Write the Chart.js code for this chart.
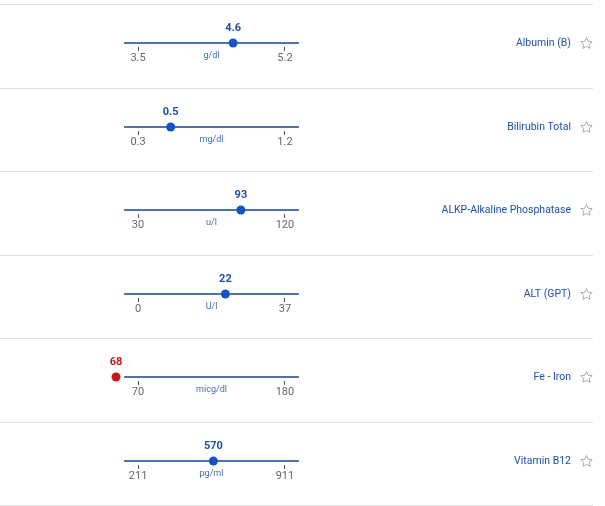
<!DOCTYPE html>
<html>
<head>
<meta charset="utf-8">
<script src="https://cdn.jsdelivr.net/npm/chart.js@4.4.1/dist/chart.umd.min.js"></script>
<style>
  html, body { margin: 0; padding: 0; background: #fff; }
  #wrap { position: relative; width: 605px; height: 506px; overflow: hidden; }
  .sep { position: absolute; left: 0; width: 593px; height: 1px; background: #e0e0e0; }
  canvas { position: absolute; left: 0; }
</style>
</head>
<body>
<div id="wrap"></div>
<script>
// ---- data ----
const testNames = ["Albumin (B)", "Bilirubin Total", "ALKP-Alkaline Phosphatase", "ALT (GPT)", "Fe - Iron", "Vitamin B12"];
const units     = ["g/dl", "mg/dl", "u/l", "U/l", "micg/dl", "pg/ml"];
const rangeLow  = [3.5, 0.3, 30, 0, 70, 211];
const rangeHigh = [5.2, 1.2, 120, 37, 180, 911];
const results   = [4.6, 0.5, 93, 22, 68, 570];
const tickLabels = ["3.5|5.2", "0.3|1.2", "30|120", "0|37", "70|180", "211|911"];

const ROW_TOP = 4, ROW_H = 83.5, CANVAS_H = 83, W = 605;
const BLUE = '#1f4fa8', LINE = '#17428f', DOT = '#1552c4', RED = '#c41a1a';

const wrap = document.getElementById('wrap');
for (let i = 0; i <= testNames.length; i++) {
  const s = document.createElement('div');
  s.className = 'sep';
  s.style.top = Math.round(ROW_TOP + i * ROW_H) + 'px';
  wrap.appendChild(s);
}

function starPath(ctx, cx, cy, R, r) {
  ctx.beginPath();
  for (let k = 0; k < 10; k++) {
    const rad = k % 2 === 0 ? R : r;
    const a = -Math.PI / 2 + k * Math.PI / 5;
    const x = cx + rad * Math.cos(a), y = cy + rad * Math.sin(a);
    if (k === 0) ctx.moveTo(x, y); else ctx.lineTo(x, y);
  }
  ctx.closePath();
}

const rowDecor = {
  id: 'rowDecor',
  afterDatasetsDraw(chart, args, opts) {
    const ctx = chart.ctx;
    const xs = chart.scales.x, ys = chart.scales.y;
    const i = opts.idx;
    const lo = rangeLow[i], hi = rangeHigh[i], v = results[i];
    const out = v < lo || v > hi;
    const pt = chart.getDatasetMeta(0).data[0];
    const yLine = ys.getPixelForValue(0);
    ctx.save();
    // value label above the point
    ctx.font = 'bold 11px Roboto, "Open Sans", sans-serif';
    ctx.fillStyle = out ? RED : BLUE;
    ctx.textAlign = 'center';
    ctx.textBaseline = 'middle';
    ctx.fillText(String(v), pt.x, yLine - 14.5);
    // unit label
    ctx.font = '9px Roboto, "Open Sans", sans-serif';
    ctx.fillStyle = '#3f6db6';
    ctx.fillText(units[i], (xs.getPixelForValue(lo) + xs.getPixelForValue(hi)) / 2, yLine + 13);
    // test name
    ctx.font = '10.5px Roboto, "Open Sans", sans-serif';
    ctx.fillStyle = BLUE;
    ctx.textAlign = 'right';
    ctx.fillText(testNames[i], 571, yLine);
    // star
    starPath(ctx, 586.5, yLine + 0.5, 6, 2.8);
    ctx.strokeStyle = '#ababab';
    ctx.lineWidth = 1;
    ctx.lineJoin = 'round';
    ctx.stroke();
    ctx.restore();
  }
};

testNames.forEach((name, i) => {
  const c = document.createElement('canvas');
  c.width = W; c.height = CANVAS_H;
  c.style.top = Math.round(ROW_TOP + i * ROW_H) + 'px';
  wrap.appendChild(c);
  const lo = rangeLow[i], hi = rangeHigh[i], r = hi - lo;
  const sMin = lo - 0.15 * r, sMax = hi + 0.15 * r;
  const v = results[i];
  const out = v < lo || v > hi;
  // out-of-range results are pinned to the edge of the scale
  const shown = v < lo ? sMin : (v > hi ? sMax : v);
  const labels = tickLabels[i].split('|');
  new Chart(c, {
    type: 'scatter',
    data: {
      datasets: [
        {
          data: [{ x: shown, y: 0 }],
          pointRadius: 4.5,
          pointBackgroundColor: out ? RED : DOT,
          pointBorderColor: out ? RED : DOT,
          pointBorderWidth: 0,
          clip: false
        },
        {
          data: [{ x: lo - 0.095 * r, y: 0 }, { x: hi + 0.095 * r, y: 0 }],
          showLine: true,
          pointRadius: 0,
          borderColor: LINE,
          borderWidth: 1.3,
          clip: false
        }
      ]
    },
    options: {
      responsive: false,
      animation: false,
      events: [],
      layout: { padding: { left: 116, right: W - 307, top: 35, bottom: 20 } },
      plugins: { legend: { display: false }, tooltip: { enabled: false }, rowDecor: { idx: i } },
      scales: {
        x: {
          type: 'linear',
          min: sMin, max: sMax,
          border: { display: false },
          grid: { drawOnChartArea: false, drawTicks: true, tickLength: 4, color: '#555', lineWidth: 1 },
          afterBuildTicks: (axis) => { axis.ticks = [{ value: lo }, { value: hi }]; },
          afterFit: (axis) => { axis.height = 20; },
          ticks: {
            autoSkip: false, maxRotation: 0,
            padding: 1,
            color: '#666',
            font: { family: 'Roboto', size: 11 },
            callback: (val) => val === lo ? labels[0] : labels[1]
          }
        },
        y: { display: false, min: -1, max: 1 }
      }
    },
    plugins: [rowDecor]
  });
});
</script>
</body>
</html>
